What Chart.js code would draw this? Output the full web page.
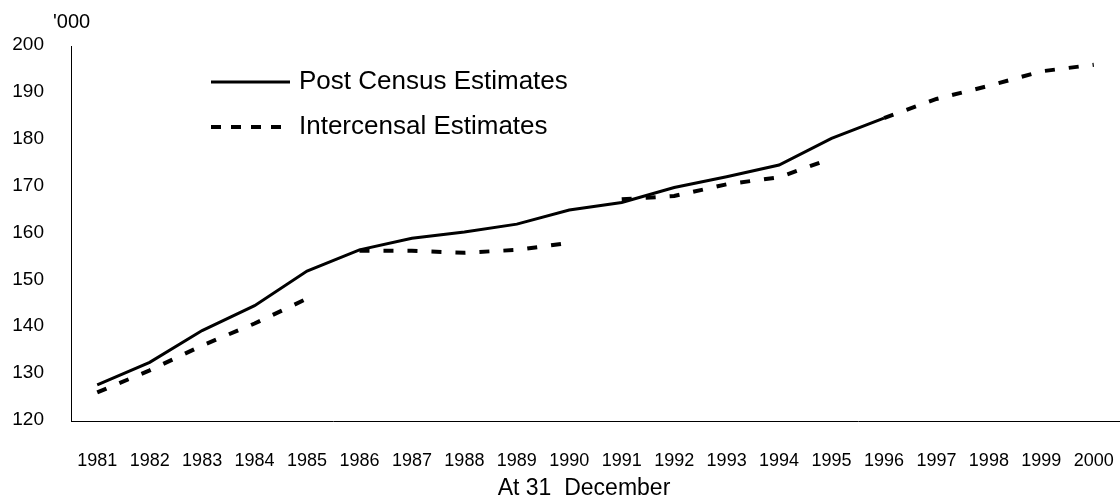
<!DOCTYPE html>
<html>
<head>
<meta charset="utf-8">
<script src="https://cdn.jsdelivr.net/npm/chart.js@4"></script>
<style>
  html, body { margin: 0; padding: 0; background: #fff; }
  #wrap { width: 1120px; height: 499px; position: relative; }
</style>
</head>
<body>
<div id="wrap"><canvas id="c" width="1120" height="499"></canvas></div>
<script>
const years = ['1981','1982','1983','1984','1985','1986','1987','1988','1989','1990',
               '1991','1992','1993','1994','1995','1996','1997','1998','1999','2000'];
const postCensus = [127.7, 132.5, 139.3, 144.6, 152.0, 156.5, 159.0, 160.3, 162.0, 165.0,
                    166.6, 169.8, 172.1, 174.6, 180.3, 184.6, null, null, null, null];
const intercensal = [126.1, 130.8, 136.1, 140.8, 146.1, 156.3, 156.3, 155.9, 156.5, 158.0,
                     167.3, 168.0, 170.5, 172.0, 176.0, 184.6, 188.7, 191.5, 194.6, 196.0];
// indices after which the intercensal series is broken (1985|1986, 1990|1991, 1995|1996)
const intercensalBreaks = [4, 9, 14];
const yTicks = [120, 130, 140, 150, 160, 170, 180, 190, 200];
const unitLabel = "'000";
const xTitle = 'At 31  December';
const legendLabels = ['Post Census Estimates', 'Intercensal Estimates'];

const overlay = {
  id: 'overlay',
  afterDraw(chart) {
    const ctx = chart.ctx;
    ctx.save();
    ctx.fillStyle = '#000';
    ctx.textBaseline = 'middle';
    // unit label
    ctx.font = '20px "Liberation Sans", Arial, sans-serif';
    ctx.textAlign = 'left';
    ctx.fillText(unitLabel, 53, 22);
    // axis title
    ctx.font = '23px "Liberation Sans", Arial, sans-serif';
    ctx.textAlign = 'center';
    ctx.fillText(xTitle, 584, 489);
    // legend
    ctx.strokeStyle = '#000';
    ctx.lineCap = 'butt';
    ctx.lineWidth = 3;
    ctx.setLineDash([]);
    ctx.beginPath(); ctx.moveTo(211, 82); ctx.lineTo(290, 82); ctx.stroke();
    ctx.lineWidth = 4;
    ctx.setLineDash([10, 10]);
    ctx.beginPath(); ctx.moveTo(211, 127); ctx.lineTo(291, 127); ctx.stroke();
    ctx.setLineDash([]);
    ctx.font = '26px "Liberation Sans", Arial, sans-serif';
    ctx.textAlign = 'left';
    ctx.fillText(legendLabels[0], 299, 82);
    ctx.fillText(legendLabels[1], 299, 127);
    ctx.restore();
  }
};

new Chart(document.getElementById('c'), {
  type: 'line',
  data: {
    labels: years,
    datasets: [
      {
        label: legendLabels[0],
        data: postCensus,
        borderColor: '#000',
        borderWidth: 3,
        pointRadius: 0,
        tension: 0,
        spanGaps: false
      },
      {
        label: legendLabels[1],
        data: intercensal,
        borderColor: '#000',
        borderWidth: 4,
        borderDash: [10, 14],
        pointRadius: 0,
        tension: 0,
        segment: {
          borderColor: ctx => intercensalBreaks.includes(ctx.p0DataIndex) ? 'rgba(0,0,0,0)' : undefined
        }
      }
    ]
  },
  options: {
    responsive: false,
    animation: false,
    devicePixelRatio: 1,
    layout: { padding: { top: 46, left: 0, right: 0, bottom: 0 } },
    plugins: { legend: { display: false }, tooltip: { enabled: false }, title: { display: false } },
    scales: {
      x: {
        type: 'category',
        offset: true,
        grid: { display: true, drawOnChartArea: false, drawTicks: false },
        border: { display: true, color: '#000', width: 1 },
        ticks: {
          color: '#000',
          font: { family: '"Liberation Sans", Arial, sans-serif', size: 18 },
          padding: 29,
          maxRotation: 0,
          autoSkip: false
        },
        afterFit(scale) { scale.height = 78; scale.paddingLeft = 0; scale.paddingRight = 0; }
      },
      y: {
        min: 120,
        max: 200,
        afterBuildTicks(scale) { scale.ticks = yTicks.map(v => ({ value: v })); },
        grid: { display: true, drawOnChartArea: false, drawTicks: false },
        border: { display: true, color: '#000', width: 1 },
        ticks: {
          color: '#000',
          font: { family: '"Liberation Sans", Arial, sans-serif', size: 19 },
          padding: 27,
          labelOffset: -1
        },
        afterFit(scale) { scale.width = 71; }
      }
    }
  },
  plugins: [overlay]
});
</script>
</body>
</html>
